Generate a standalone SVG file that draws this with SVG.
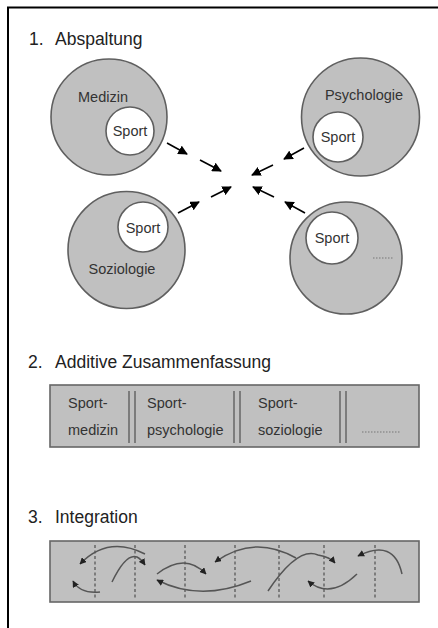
<svg xmlns="http://www.w3.org/2000/svg" width="438" height="628" viewBox="0 0 438 628">
<defs>
<marker id="ah" viewBox="0 0 10 10" refX="9" refY="5" markerWidth="6" markerHeight="6" orient="auto" markerUnits="strokeWidth">
<path d="M0,0 L10,5 L0,10 Z" fill="#000"/>
</marker>
<marker id="ah2" viewBox="0 0 10 10" refX="9" refY="5" markerWidth="4.5" markerHeight="4.5" orient="auto" markerUnits="strokeWidth">
<path d="M0,0 L10,5 L0,10 Z" fill="#222"/>
</marker>
</defs>
<style>
text{font-family:"Liberation Sans",Arial,sans-serif;fill:#333}
.h{font-size:17.5px;fill:#222}
.t{font-size:14.5px}
.big{fill:#c0c0c0;stroke:#5f5f5f;stroke-width:1.6}
.in{fill:#fff;stroke:#5f5f5f;stroke-width:1.6}
.arr{stroke:#000;stroke-width:1.6;fill:none;marker-end:url(#ah)}
.crva{stroke:#555;stroke-width:1.5;fill:none;marker-end:url(#ah2)}
.box{fill:#c0c0c0;stroke:#666;stroke-width:1.6}
.dl{stroke:#666;stroke-width:1.5}
.dash{stroke:#666;stroke-width:1.5;stroke-dasharray:3 2.5}
.dots{stroke:#777;stroke-width:1;stroke-dasharray:1.5 1.5}
</style>
<rect width="438" height="628" fill="#fff"/>
<path d="M8,628 V7.5 H438" fill="none" stroke="#000" stroke-width="2"/>

<g id="title1"><text class="h" x="29" y="45">1.</text><text class="h" x="55" y="45">Abspaltung</text></g>

<g id="medizin">
<circle class="big" cx="109" cy="117" r="58"/>
<text class="t" x="103" y="102" text-anchor="middle">Medizin</text>
<circle class="in" cx="130" cy="131" r="24"/>
<text class="t" x="130" y="136" text-anchor="middle">Sport</text>
</g>
<g id="psychologie">
<circle class="big" cx="360.5" cy="117" r="59"/>
<text class="t" x="364" y="100" text-anchor="middle">Psychologie</text>
<circle class="in" cx="338" cy="137" r="25"/>
<text class="t" x="338" y="142" text-anchor="middle">Sport</text>
</g>
<g id="soziologie">
<circle class="big" cx="126.5" cy="250" r="58.5"/>
<circle class="in" cx="143" cy="227" r="25"/>
<text class="t" x="143" y="233" text-anchor="middle">Sport</text>
<text class="t" x="122" y="274" text-anchor="middle">Soziologie</text>
</g>
<g id="weitere">
<circle class="big" cx="346" cy="258" r="56"/>
<circle class="in" cx="332" cy="238" r="26"/>
<text class="t" x="332" y="243" text-anchor="middle">Sport</text>
<line class="dots" x1="373" y1="258" x2="394" y2="258"/>
</g>

<g id="connectors">
<line class="arr" x1="167" y1="143" x2="187" y2="154"/>
<line class="arr" x1="200" y1="160" x2="221" y2="171"/>
<line class="arr" x1="304" y1="148" x2="284" y2="159"/>
<line class="arr" x1="273" y1="165" x2="252" y2="175"/>
<line class="arr" x1="178" y1="213" x2="199" y2="202"/>
<line class="arr" x1="211" y1="197" x2="231" y2="187"/>
<line class="arr" x1="274" y1="197" x2="253" y2="187"/>
<line class="arr" x1="305" y1="213" x2="285" y2="202"/>
</g>

<g id="title2"><text class="h" x="28" y="368">2.</text><text class="h" x="55" y="368">Additive Zusammenfassung</text></g>

<g id="additiv">
<rect class="box" x="50" y="385" width="369" height="62"/>
<line class="dl" x1="129" y1="391" x2="129" y2="443"/>
<line class="dl" x1="135" y1="391" x2="135" y2="443"/>
<line class="dl" x1="234" y1="391" x2="234" y2="443"/>
<line class="dl" x1="240" y1="391" x2="240" y2="443"/>
<line class="dl" x1="340" y1="391" x2="340" y2="443"/>
<line class="dl" x1="346" y1="391" x2="346" y2="443"/>
<text class="t" x="68" y="408">Sport-</text>
<text class="t" x="68" y="435">medizin</text>
<text class="t" x="147" y="408">Sport-</text>
<text class="t" x="147" y="435">psychologie</text>
<text class="t" x="258" y="408">Sport-</text>
<text class="t" x="258" y="435">soziologie</text>
<line class="dots" x1="362" y1="432" x2="400" y2="432"/>
</g>

<g id="title3"><text class="h" x="28" y="523">3.</text><text class="h" x="55" y="523">Integration</text></g>

<g id="integration">
<rect class="box" x="50" y="541" width="369" height="61"/>
<line class="dash" x1="95" y1="545" x2="95" y2="598"/>
<line class="dash" x1="135" y1="545" x2="135" y2="598"/>
<line class="dash" x1="185" y1="545" x2="185" y2="598"/>
<line class="dash" x1="235" y1="545" x2="235" y2="598"/>
<line class="dash" x1="279" y1="545" x2="279" y2="598"/>
<line class="dash" x1="324" y1="545" x2="324" y2="598"/>
<line class="dash" x1="375" y1="545" x2="375" y2="598"/>
<path class="crva" d="M145,554 Q108,535 80,564"/>
<path class="crva" d="M112,582 Q126,553 137,557 Q141,559 145,565"/>
<path class="crva" d="M100,592 Q80,594 73,581"/>
<path class="crva" d="M157,574 Q185,552 206,574"/>
<path class="crva" d="M251,581 Q200,602 157,580"/>
<path class="crva" d="M296,558 Q254,534 215,562"/>
<path class="crva" d="M268,591 Q298,546 318,555 Q330,557 335,563"/>
<path class="crva" d="M357,574 Q330,600 308,581"/>
<path class="crva" d="M402,574 Q394,538 358,556"/>
</g>
</svg>
